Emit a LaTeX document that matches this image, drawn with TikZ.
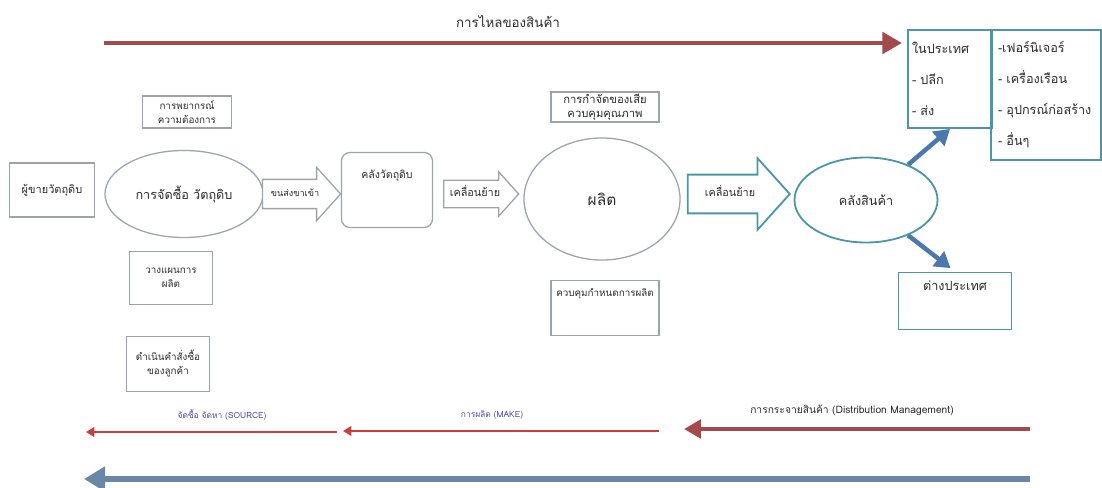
\documentclass[tikz,border=0pt]{standalone}
\usepackage{fontspec}
\usepackage{tikz}
\usetikzlibrary{shapes.geometric,shapes.arrows,arrows.meta}
\newfontfamily\thaifont[Script=Thai]{Loma}
\definecolor{boxgray}{HTML}{9AA4AA}
\definecolor{tealline}{HTML}{4A97AA}
\definecolor{txtgray}{HTML}{2C2C2C}
\definecolor{flowred}{HTML}{A44A4D}
\definecolor{thinred}{HTML}{CC3D3D}
\definecolor{labelblue}{HTML}{4A4AA6}
\definecolor{steelblue}{HTML}{4B79AE}
\definecolor{backblue}{HTML}{6A88A6}

\begin{document}
\begin{tikzpicture}[x=0.025cm,y=-0.025cm,
  font=\thaifont\fontsize{7}{10}\selectfont, text=txtgray,
  gbox/.style={draw=boxgray,line width=0.9pt,align=center,inner sep=1pt},
  tbox/.style={draw=tealline,line width=1.3pt,inner xsep=3pt,align=left,
    font=\thaifont\fontsize{9}{22}\selectfont},
  gfat/.style={single arrow,draw=boxgray,line width=0.9pt,fill=white,
    single arrow tip angle=96,text height=5pt,text depth=1.5pt,inner xsep=2pt},
  flowarrow/.style={draw=flowred,line width=3.5pt,-{Triangle[length=14pt,width=15pt]}},
  thinarrow/.style={draw=thinred,line width=1.3pt,-{Triangle[length=6pt,width=7pt]}},
  bluearrow/.style={draw=steelblue,line width=3.2pt,-{Triangle[length=11pt,width=13pt]}},
  botlabel/.style={font=\thaifont\fontsize{6}{7}\selectfont}]
\useasboundingbox (0,0) rectangle (1102,487);

% flow of goods
\coordinate (flowstart) at (104,43);
\coordinate (flowend) at (902,43);
\draw[flowarrow] (flowstart) -- (flowend);
\node[font=\thaifont\fontsize{9.5}{10}\selectfont] (flowlabel) at (508,22) {การไหลของสินค้า};

% source side
\node[gbox,minimum width=2.125cm,minimum height=1.35cm,font=\thaifont\fontsize{7.8}{10}\selectfont] (seller) at (52,190) {ผู้ขายวัตถุดิบ};
\node[ellipse,draw=boxgray,line width=0.9pt,minimum width=3.95cm,minimum height=2.175cm,font=\thaifont\fontsize{9}{10}\selectfont] (purchase) at (184,194) {การจัดซื้อ วัตถุดิบ};
\node[gbox,minimum width=2.225cm,minimum height=0.8cm] (forecast) at (187,112) {การพยากรณ์\\ความต้องการ};
\node[gbox,minimum width=2.075cm,minimum height=1.325cm] (plan) at (171,278) {วางแผนการ\\ผลิต};
\node[gbox,minimum width=2.075cm,minimum height=1.375cm] (orders) at (168,364) {ดำเนินคำสั่งซื้อ\\ของลูกค้า};
\node[gfat,minimum height=1.95cm,inner ysep=6.7pt,single arrow head extend=0.3cm,font=\thaifont\fontsize{6.5}{10}\selectfont] (inbound) at (295,194) {ขนส่งขาเข้า};
\node[gbox,rounded corners=6pt,minimum width=2.275cm,minimum height=1.875cm,font=\thaifont\fontsize{7.5}{10}\selectfont] (rawstore) at (387,190) {คลังวัตถุดิบ\\[12pt]};
\node[gfat,minimum height=1.875cm,inner ysep=6pt,single arrow head extend=0.2125cm,font=\thaifont\fontsize{7.7}{10}\selectfont] (move1) at (475,194) {เคลื่อนย้าย};

% make
\node[ellipse,draw=boxgray,line width=0.9pt,minimum width=3.9cm,minimum height=3.05cm,font=\thaifont\fontsize{11}{12}\selectfont] (produce) at (602,199) {ผลิต};
\node[gbox,minimum width=2.7cm,minimum height=0.75cm,font=\thaifont\fontsize{8}{10}\selectfont] (quality) at (605,107) {การกำจัดของเสีย\\ควบคุมคุณภาพ};
\node[gbox,minimum width=2.7cm,minimum height=1.375cm] (schedule) at (605,308) {ควบคุมกำหนดการผลิต\\[12pt]};

% deliver
\node[gfat,draw=tealline,line width=1.3pt,minimum height=2.55cm,inner ysep=9.9pt,single arrow head extend=0.4125cm,font=\thaifont\fontsize{7.7}{10}\selectfont] (move2) at (730,194) {เคลื่อนย้าย};
\node[ellipse,draw=tealline,line width=1.3pt,minimum width=3.575cm,minimum height=2.125cm,font=\thaifont\fontsize{9}{10}\selectfont] (store) at (866,200) {คลังสินค้า\\[8pt]};
\node[tbox,minimum height=2.45cm,text width=1.9cm] (domestic) at (950,79) {ในประเทศ\\ - ปลีก\\ - ส่ง};
\node[tbox,minimum height=3.25cm,text width=2.4cm,inner xsep=5pt] (products) at (1046,95) {-เฟอร์นิเจอร์\\ - เครื่องเรือน\\ - อุปกรณ์ก่อสร้าง\\ - อื่นๆ};
\node[tbox,align=center,minimum width=2.825cm,minimum height=1.425cm,font=\thaifont\fontsize{9}{10}\selectfont] (abroad) at (955,301) {ต่างประเทศ\\[12pt]};
\draw[bluearrow] (store.40) -- (domestic.south);
\draw[bluearrow,shorten >=4pt] (store.-40) -- (abroad.north);

% bottom: reverse flow
\coordinate (srcstart) at (337,432);
\coordinate (srcend) at (86,432);
\coordinate (makestart) at (659,431);
\coordinate (makeend) at (343,431);
\coordinate (diststart) at (1030,429);
\coordinate (distend) at (684,429);
\coordinate (backstart) at (1030,479);
\coordinate (backend) at (84,479);
\draw[thinarrow] (srcstart) -- (srcend);
\draw[thinarrow] (makestart) -- (makeend);
\draw[flowarrow,line width=3pt,-{Triangle[length=12pt,width=13pt]}] (diststart) -- (distend);
\draw[draw=backblue,line width=4.5pt,-{Triangle[length=15pt,width=17pt]}] (backstart) -- (backend);
\node[botlabel,text=labelblue] (srclabel) at (222,415) {จัดซื้อ จัดหา (SOURCE)};
\node[botlabel,text=labelblue] (makelabel) at (492,415) {การผลิต (MAKE)};
\node[botlabel,font=\thaifont\fontsize{7.3}{8}\selectfont] (distlabel) at (852,410) {การกระจายสินค้า (Distribution Management)};
\end{tikzpicture}
\end{document}
